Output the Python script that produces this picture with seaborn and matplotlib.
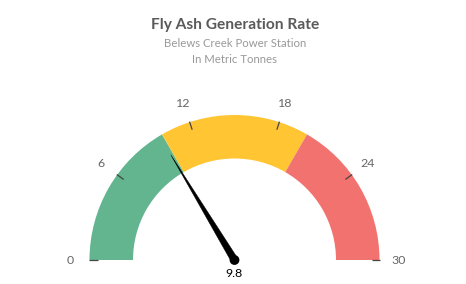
import numpy as np
import matplotlib
matplotlib.use("Agg")
import matplotlib.pyplot as plt
from matplotlib.patches import Wedge, Polygon, Circle
import seaborn as sns

# ---- data ----
band_starts = [0, 10, 20]
band_ends = [10, 20, 30]
band_colors = ["#62B58F", "#FFC533", "#F2726F"]
tick_values = [0, 6, 12, 18, 24, 30]
tick_labels = ["0", "6", "12", "18", "24", "30"]
gauge_min = 0
gauge_max = 30
dial_value = 9.8
title = "Fly Ash Generation Rate"
subtitle_lines = ["Belews Creek Power Station", "In Metric Tonnes"]

sns.set_theme(style="white")
plt.rcParams['font.family'] = ['Lato', 'DejaVu Sans']

W, H = 466, 284
fig = plt.figure(figsize=(W / 100, H / 100), dpi=100)
ax = fig.add_axes([0, 0, 1, 1])
ax.set_xlim(0, W)
ax.set_ylim(0, H)
ax.set_axis_off()

cx, cy = 234.5, H - 260
r_out, r_in = 145, 101.5


def ang(v):
    return 180.0 - (v - gauge_min) / (gauge_max - gauge_min) * 180.0


for s, e, c in zip(band_starts, band_ends, band_colors):
    ax.add_patch(Wedge((cx, cy), r_out, ang(e), ang(s), width=r_out - r_in,
                       facecolor=c, edgecolor="none"))

for v, lab in zip(tick_values, tick_labels):
    a = np.deg2rad(ang(v))
    ax.plot([cx + 137 * np.cos(a), cx + 145.5 * np.cos(a)],
            [cy + 137 * np.sin(a), cy + 145.5 * np.sin(a)],
            color="#444444", lw=0.9, solid_capstyle="butt")
    ax.text(cx + 164.5 * np.cos(a), cy + 164.5 * np.sin(a), lab,
            ha="center", va="center", fontsize=8.9, color="#666666")

# needle
a = np.deg2rad(ang(dial_value))
L = 123
hw = 3.6
tip = (cx + L * np.cos(a), cy + L * np.sin(a))
px, py = -np.sin(a), np.cos(a)
ax.add_patch(Polygon([(cx + hw * px, cy + hw * py), tip, (cx - hw * px, cy - hw * py)],
                     closed=True, facecolor="black", edgecolor="black", lw=0.3))
ax.add_patch(Circle((cx, cy), 4.2, facecolor="black", edgecolor="black"))

ax.text(cx, H - 273.5, f"{dial_value}", ha="center", va="center",
        fontsize=8.9, color="black")

ax.text(235, H - 25, title, ha="center", va="center", fontsize=11.2,
        fontweight="bold", color="#5A5A5A")
ax.text(235, H - 43.5, subtitle_lines[0], ha="center", va="center",
        fontsize=8.2, color="#999999")
ax.text(235, H - 59.5, subtitle_lines[1], ha="center", va="center",
        fontsize=8.2, color="#999999")

fig.savefig("out.png", dpi=100, facecolor="white")
